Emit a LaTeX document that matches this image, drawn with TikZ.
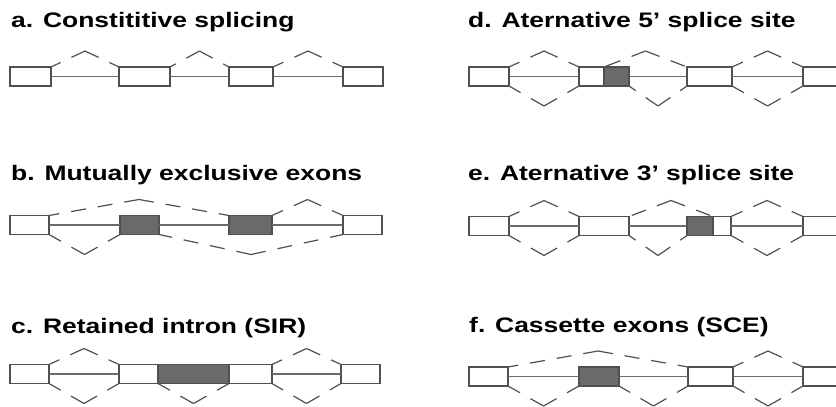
\documentclass[tikz,border=0pt]{standalone}
\usepackage{fontspec}
\setmainfont{Liberation Sans}
\newfontfamily\tfont{Liberation Sans Bold}
\usetikzlibrary{calc}
\definecolor{edge}{HTML}{505050}
\definecolor{exg}{HTML}{6A6A6A}
\definecolor{intr}{HTML}{6A6A6A}
\tikzset{
  exon/.style={draw=edge, line width=1.2pt, fill=white, minimum height=19pt, inner sep=0pt, outer sep=0pt},
  exgray/.style={exon, fill=exg},
  intron/.style={draw=intr, line width=1.1pt},
  junc/.style={draw=edge, line width=1.2pt, dash pattern=on 15pt off 12pt},
  title/.style={anchor=base west, inner sep=0pt, font=\tfont\fontsize{21}{25}\selectfont}
}
\newcommand\arcup[2]{%
  \draw[junc] ($(#1)!0.5!(#2)+(0,-16)$) -- (#1);
  \draw[junc] ($(#1)!0.5!(#2)+(0,-16)$) -- (#2);}
\newcommand\arcdn[2]{%
  \draw[junc] ($(#1)!0.5!(#2)+(0,20)$) -- (#1);
  \draw[junc] ($(#1)!0.5!(#2)+(0,20)$) -- (#2);}
\newcommand\ttl[1]{\scalebox{1.26}[1]{#1}}
\begin{document}
\begin{tikzpicture}[x=1pt,y=-1pt]
\clip (0,0) rectangle (836,407);
\useasboundingbox (0,0) rectangle (836,407);
% ---------------- a
\node[title] (ta) at (11,27) {\ttl{a. Constititive splicing}};
\node[exon, minimum width=41pt] (a1) at (30.5,76.5) {};
\node[exon, minimum width=51pt] (a2) at (144.5,76.5) {};
\node[exon, minimum width=44pt] (a3) at (251,76.5) {};
\node[exon, minimum width=40pt] (a4) at (363,76.5) {};
\draw[intron] (a1.east) -- (a2.west);
\draw[intron] (a2.east) -- (a3.west);
\draw[intron] (a3.east) -- (a4.west);
\arcup{a1.north east}{a2.north west}
\arcup{a2.north east}{a3.north west}
\arcup{a3.north east}{a4.north west}
% ---------------- b
\node[title] (tb) at (11,180) {\ttl{b. Mutually exclusive exons}};
\node[exon, minimum width=39pt] (b1) at (29.5,225) {};
\node[exgray, minimum width=39pt] (b2) at (139.5,225) {};
\node[exgray, minimum width=43pt] (b3) at (250.5,225) {};
\node[exon, minimum width=39pt] (b4) at (362.5,225) {};
\draw[intron] (b1.east) -- (b2.west);
\draw[intron] (b2.east) -- (b3.west);
\draw[intron] (b3.east) -- (b4.west);
\arcup{b1.north east}{b3.north west}
\arcup{b3.north east}{b4.north west}
\arcdn{b1.south east}{b2.south west}
\arcdn{b2.south east}{b4.south west}
% ---------------- c
\node[title] (tc) at (11,333) {\ttl{c. Retained intron (SIR)}};
\node[exon, minimum width=39pt] (c1) at (29.5,374) {};
\node[exon, minimum width=39pt] (c2) at (138.5,374) {};
\node[exgray, minimum width=71pt] (c3) at (193.5,374) {};
\node[exon, minimum width=43pt] (c4) at (250.5,374) {};
\node[exon, minimum width=39pt] (c5) at (360.5,374) {};
\draw[intron] (c1.east) -- (c2.west);
\draw[intron] (c4.east) -- (c5.west);
\arcup{c1.north east}{c2.north west}
\arcup{c4.north east}{c5.north west}
\arcdn{c1.south east}{c2.south west}
\arcdn{c3.south west}{c3.south east}
\arcdn{c4.south east}{c5.south west}
% ---------------- d
\node[title] (td) at (468,27) {\ttl{d. Aternative 5’ splice site}};
\node[exon, minimum width=40pt] (d1) at (489,76.5) {};
\node[exon, minimum width=25pt] (d2) at (591.5,76.5) {};
\node[exgray, minimum width=25pt] (d3) at (616.5,76.5) {};
\node[exon, minimum width=45pt] (d4) at (709.5,76.5) {};
\node[exon, minimum width=40pt] (d5) at (823,76.5) {};
\draw[intron] (d1.east) -- (d2.west);
\draw[intron] (d3.east) -- (d4.west);
\draw[intron] (d4.east) -- (d5.west);
\arcup{d1.north east}{d2.north west}
\arcdn{d1.south east}{d2.south west}
\arcup{d2.north east}{d4.north west}
\arcdn{d3.south east}{d4.south west}
\arcup{d4.north east}{d5.north west}
\arcdn{d4.south east}{d5.south west}
% ---------------- e
\node[title] (te) at (468,180.5) {\ttl{e. Aternative 3’ splice site}};
\node[exon, minimum width=40pt] (e1) at (489,226) {};
\node[exon, minimum width=50pt] (e2) at (604,226) {};
\node[exgray, minimum width=26pt] (e3) at (700,226) {};
\node[exon, minimum width=18pt] (e4) at (722,226) {};
\node[exon, minimum width=40pt] (e5) at (823,226) {};
\draw[intron] (e1.east) -- (e2.west);
\draw[intron] (e2.east) -- (e3.west);
\draw[intron] (e4.east) -- (e5.west);
\arcup{e1.north east}{e2.north west}
\arcdn{e1.south east}{e2.south west}
\arcup{e2.north east}{e4.north west}
\arcdn{e2.south east}{e3.south west}
\arcup{e4.north east}{e5.north west}
\arcdn{e4.south east}{e5.south west}
% ---------------- f
\node[title] (tf) at (469,332) {\ttl{f. Cassette exons (SCE)}};
\node[exon, minimum width=39pt] (f1) at (488.5,376.5) {};
\node[exgray, minimum width=40pt] (f2) at (599,376.5) {};
\node[exon, minimum width=45pt] (f3) at (710.5,376.5) {};
\node[exon, minimum width=40pt] (f4) at (823,376.5) {};
\draw[intron] (f1.east) -- (f2.west);
\draw[intron] (f2.east) -- (f3.west);
\draw[intron] (f3.east) -- (f4.west);
\arcup{f1.north east}{f3.north west}
\arcup{f3.north east}{f4.north west}
\arcdn{f1.south east}{f2.south west}
\arcdn{f2.south east}{f3.south west}
\arcdn{f3.south east}{f4.south west}
\end{tikzpicture}
\end{document}
